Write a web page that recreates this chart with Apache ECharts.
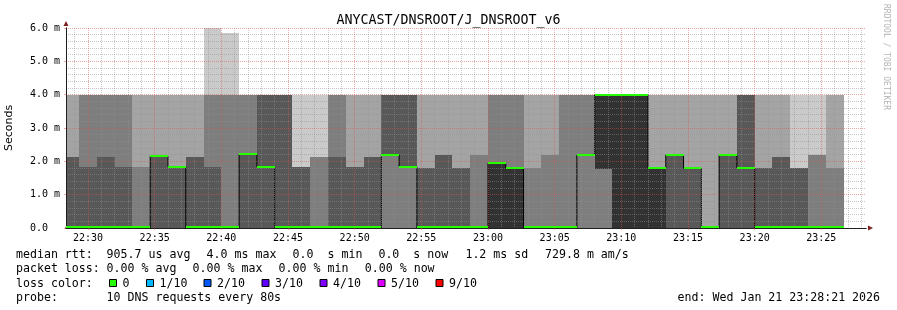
<!DOCTYPE html>
<html>
<head>
<meta charset="utf-8">
<script src="https://cdn.jsdelivr.net/npm/echarts@6/dist/echarts.min.js"></script>
<style>
html,body{margin:0;padding:0;background:#ffffff;}
#chart{width:897px;height:310px;}
</style>
</head>
<body>
<div id="chart"></div>
<script>
// ---------- data ----------
const chartTitle = 'ANYCAST/DNSROOT/J_DNSROOT_v6';
const viewStart = '22:28:21';
const viewEnd = '23:28:21';
const firstStepStart = '22:28:00';   // first (partial) 80 s step
const stepSeconds = 80;
const xTickLabels = ['22:30','22:35','22:40','22:45','22:50','22:55','23:00','23:05','23:10','23:15','23:20','23:25'];
const yTickLabels = ['0.0','1.0 m','2.0 m','3.0 m','4.0 m','5.0 m','6.0 m'];

// median rtt per step (ms)
const medians = [0,0,0,0,0,2.16,1.84,0,0,0,2.21,1.84,0,0,0,0,0,0,2.19,1.84,0,0,0,0,1.94,1.80,0,0,0,2.19,4.0,4.0,4.0,1.79,2.19,1.79,0,2.19,1.79,0,0,0,0,0];

// sorted rtt of the 10 DNS requests per step (ms)
const sortedPings = [
  [0,0,0,0,0,0,2.14,2.14,4,4],
  [0,0,0,0,0,0,1.84,4,4,4],
  [0,0,0,0,0,0,2.14,4,4,4],
  [0,0,0,0,0,0,1.84,4,4,4],
  [0,0,0,0,0,0,0,1.84,4,4],
  [0,0,0,0,2.16,2.16,2.16,2.16,4,4],
  [0,0,0,0,1.84,1.84,1.84,1.84,4,4],
  [0,0,0,0,0,0,2.14,2.14,4,4],
  [0,0,0,0,0,0,1.84,4,4,6.0],
  [0,0,0,0,0,0,0,4,4,5.86],
  [0,0,0,0,2.21,2.21,2.21,4,4,4],
  [0,0,0,0,1.84,1.84,4,4,4,4],
  [0,0,0,0,0,0,4,4,4,4],
  [0,0,0,0,0,0,1.84,1.84,1.84,4],
  [0,0,0,0,0,0,0,2.14,2.14,4],
  [0,0,0,0,0,0,2.14,4,4,4],
  [0,0,0,0,0,0,1.84,1.84,4,4],
  [0,0,0,0,0,0,2.14,2.14,4,4],
  [0,0,0,2.19,2.19,2.19,4,4,4,4],
  [0,0,0,1.84,1.84,1.84,4,4,4,4],
  [0,0,0,0,0,0,1.81,1.81,4,4],
  [0,0,0,0,0,0,2.19,2.19,4,4],
  [0,0,0,0,0,0,1.81,1.81,4,4],
  [0,0,0,0,0,0,0,2.19,4,4],
  [0,0,0,0,0,1.94,1.94,4,4,4],
  [0,0,0,0,0,1.80,1.80,4,4,4],
  [0,0,0,0,0,0,0,1.80,4,4],
  [0,0,0,0,0,0,0,2.19,4,4],
  [0,0,0,0,0,0,0,4,4,4],
  [0,0,0,2.19,2.19,2.19,2.19,4,4,4],
  [0,0,0,1.77,1.77,4,4,4,4,4],
  [0,0,0,0,0,4,4,4,4,4],
  [0,0,0,0,0,4,4,4,4,4],
  [0,0,0,0,0,1.79,1.79,1.79,4,4],
  [0,0,0,0,2.19,2.19,2.19,2.19,4,4],
  [0,0,0,0,1.79,1.79,1.79,1.79,4,4],
  [0,0,0,0,0,0,0,0,4,4],
  [0,0,0,0,2.19,2.19,2.19,2.19,4,4],
  [0,0,0,0,1.79,1.79,4,4,4,4],
  [0,0,0,0,0,0,1.80,1.80,4,4],
  [0,0,0,0,0,0,2.14,2.14,4,4],
  [0,0,0,0,0,0,1.80,1.80,1.80,4],
  [0,0,0,0,0,0,0,2.19,2.19,4],
  [0,0,0,0,0,0,0,1.80,4,4]
];

const lossLabels = ['0','1/10','2/10','3/10','4/10','5/10','9/10'];
const lossColors = ['#26ff00','#00b8ff','#0059ff','#5e00ff','#7e00ff','#dd00ff','#ff0000'];
const medianLossColor = lossColors[0];

const legendLine1 = ['median rtt:','905.7 us avg','4.0 ms max','0.0  s min','0.0  s now','1.2 ms sd','729.8 m am/s'];
const legendLine2 = ['packet loss:','0.00 % avg','0.00 % max','0.00 % min','0.00 % now'];
const legendLine3Label = 'loss color:';
const legendLine4 = ['probe:','10 DNS requests every 80s'];
const endText = 'end: Wed Jan 21 23:28:21 2026';
const watermark = 'RRDTOOL / TOBI OETIKER';

// ---------- helpers ----------
function toSec(s){ const p = s.split(':').map(Number); return p[0]*3600 + p[1]*60 + (p[2]||0); }
const tMin = toSec(viewStart), tMax = toSec(viewEnd), step0 = toSec(firstStepStart);
const xMajor = xTickLabels.map(toSec);
const xMinor = [];
for (let t = Math.ceil(tMin/60)*60; t < tMax; t += 60) if (xMajor.indexOf(t) < 0) xMinor.push(t);

// smoke layers like smokeping (outer pair lightest, inner pair darkest)
const smokeData = [];
sortedPings.forEach(function(p, i){
  const t0 = step0 + i*stepSeconds, t1 = t0 + stepSeconds;
  const half = p.length/2;
  for (let top = p.length, bot = 1; top > bot; top--, bot++) {
    const lo = p[bot-1], hi = p[top-1];
    if (hi > lo) smokeData.push([t0, t1, lo, hi, Math.floor(190/half*(half-bot)) + 50]);
  }
});
const medianBand = medians.map(function(m, i){ const t0 = step0 + i*stepSeconds; return [t0, t0 + stepSeconds, m]; });
const medianLine = medians.map(function(m, i){ return [step0 + i*stepSeconds, m]; });
medianLine.push([step0 + medians.length*stepSeconds, medians[medians.length-1]]);

const MONO = 'DejaVu Sans Mono';
const gridColor = 'rgba(143,143,143,0.5)';
const mgridColor = 'rgba(222,79,79,0.5)';
const axisColor = '#1f1f1f';
const arrowColor = '#801f1f';

// ---------- legend graphics ----------
const LF = '11.6px ' + MONO;
const graphics = [];
function txt(x, y, s, font, fill){ graphics.push({type:'text', x:x, y:y, silent:true, style:{text:s, font:font||LF, fill:fill||'#000', align:'left', verticalAlign:'middle'}}); }
const itemX = [16, 106.6, 206.6, 292.6, 378.4, 465.4, 545];
legendLine1.forEach(function(s,i){ txt(itemX[i], 254.5, s); });
const itemX2 = [16, 106.6, 192.6, 278.6, 364.8];
legendLine2.forEach(function(s,i){ txt(itemX2[i], 269, s); });
txt(16, 283.5, legendLine3Label);
const boxX = [109, 146, 203.5, 261.5, 319.5, 377.5, 435.5];
lossLabels.forEach(function(s,i){
  graphics.push({type:'rect', silent:true, shape:{x: boxX[i]+0.5, y: 279.5, width: 7, height: 7}, style:{fill: lossColors[i], stroke:'#000', lineWidth:1}});
  txt(boxX[i] + 13.6, 283.5, s);
});
txt(16, 297.5, legendLine4[0]);
txt(106.6, 297.5, legendLine4[1]);
txt(677.6, 297.5, endText);
graphics.push({type:'text', x: 886, y: 4, rotation: -Math.PI/2, silent:true,
  style:{text: watermark, font: '8px ' + MONO, fill:'#b4b4b4', align:'left', verticalAlign:'middle'}});

// manual clipping to the plot rectangle
function clipBox(x0, y0, x1, y1, cs){
  const l = Math.max(x0, cs.x), r = Math.min(x1, cs.x + cs.width);
  const t = Math.max(y0, cs.y), b = Math.min(y1, cs.y + cs.height);
  if (r <= l || b <= t) return null;
  return {x: l, y: t, width: r - l, height: b - t};
}

// ---------- chart ----------
const chart = echarts.init(document.getElementById('chart'), null, {renderer:'canvas'});
chart.setOption({
  animation: false,
  backgroundColor: '#ffffff',
  title: {
    text: chartTitle, left: 'center', top: 9,
    textStyle: {fontFamily: MONO, fontSize: 13.3, fontWeight: 'normal', color: '#000'}
  },
  grid: {left: 66, right: 31, top: 28, bottom: 82, containLabel: false, outerBoundsMode: 'none'},
  xAxis: [
    {
      type: 'value', min: tMin, max: tMax, position: 'bottom', z: 6,
      axisLine: {show: true, onZero: false, lineStyle: {color: axisColor, width: 1}},
      axisTick: {show: true, customValues: xMajor, length: 2, lineStyle: {color: mgridColor}},
      axisLabel: {
        show: true, customValues: xMajor, margin: 5,
        fontFamily: MONO, fontSize: 10, color: '#000',
        formatter: function(v){ const k = xMajor.indexOf(Math.round(v)); return k >= 0 ? xTickLabels[k] : ''; }
      },
      splitLine: {show: true, lineStyle: {color: mgridColor, width: 1, type: [1,1]}}
    },
    {
      type: 'value', min: tMin, max: tMax, position: 'bottom', z: 4,
      axisLine: {show: false},
      axisTick: {show: false, customValues: xMinor},
      axisLabel: {show: false, customValues: xMinor},
      splitLine: {show: true, lineStyle: {color: gridColor, width: 1, type: [1,1]}}
    },
    {
      type: 'value', min: tMin, max: tMax, position: 'bottom', z: 5,
      axisLine: {show: true, onZero: false, symbol: ['none','triangle'], symbolSize: [5,5], symbolOffset: [0, 4.5], lineStyle: {color: arrowColor, width: 1}},
      axisTick: {show: false}, axisLabel: {show: false}, splitLine: {show: false}
    }
  ],
  yAxis: [
    {
      type: 'value', min: 0, max: 6, interval: 1, position: 'left', z: 6,
      name: 'Seconds', nameLocation: 'middle', nameRotate: 90, nameGap: 51,
      nameTextStyle: {fontFamily: 'DejaVu Sans', fontSize: 11, color: '#000'},
      axisLine: {show: true, onZero: false, lineStyle: {color: axisColor, width: 1}},
      axisTick: {show: true, length: 2, lineStyle: {color: mgridColor}},
      axisLabel: {
        show: true, margin: 36, align: 'left',
        fontFamily: MONO, fontSize: 10, color: '#000',
        formatter: function(v){ return yTickLabels[Math.round(v)]; }
      },
      splitLine: {show: true, lineStyle: {color: mgridColor, width: 1, type: [1,1]}},
      minorTick: {show: false, splitNumber: 5},
      minorSplitLine: {show: true, lineStyle: {color: gridColor, width: 1, type: [1,1]}}
    },
    {
      type: 'value', min: 0, max: 6, interval: 1, position: 'left', z: 5,
      axisLine: {show: true, onZero: false, symbol: ['none','triangle'], symbolSize: [5,5], symbolOffset: [0, 4.5], lineStyle: {color: arrowColor, width: 1}},
      axisTick: {show: false}, axisLabel: {show: false}, splitLine: {show: false}
    }
  ],
  series: [
    {
      name: 'smoke', type: 'custom', xAxisIndex: 0, yAxisIndex: 0, z: 1,
      encode: {x: [0,1], y: [2,3]},
      data: smokeData,
      renderItem: function(params, api){
        const a = api.coord([api.value(0), api.value(3)]);
        const b = api.coord([api.value(1), api.value(2)]);
        const shape = clipBox(Math.round(a[0]), Math.round(a[1]), Math.round(b[0]), Math.round(b[1]), params.coordSys);
        if (!shape) return null;
        const g = api.value(4);
        return {type: 'rect', shape: shape, style: {fill: 'rgb(' + g + ',' + g + ',' + g + ')'}};
      }
    },
    {
      name: 'median', type: 'line', xAxisIndex: 0, yAxisIndex: 0, z: 2,
      step: 'end', data: medianLine, symbol: 'none', clip: true,
      lineStyle: {color: '#000', width: 1}
    },
    {
      name: 'median loss', type: 'custom', xAxisIndex: 0, yAxisIndex: 0, z: 7,
      encode: {x: [0,1], y: 2},
      data: medianBand,
      renderItem: function(params, api){
        const a = api.coord([api.value(0), api.value(2)]);
        const b = api.coord([api.value(1), api.value(2)]);
        const cs = params.coordSys;
        const bottom = cs.y + cs.height;
        // 2 px band centred on the median, kept inside the plot area
        let yTop = Math.round(a[1]) - 1;
        if (yTop + 2 > bottom) yTop = bottom - 2;
        const shape = clipBox(Math.round(a[0]), yTop, Math.round(b[0]), yTop + 2, cs);
        if (!shape) return null;
        return {type: 'rect', shape: shape, style: {fill: medianLossColor}};
      }
    }
  ],
  graphic: graphics
});
</script>
</body>
</html>
